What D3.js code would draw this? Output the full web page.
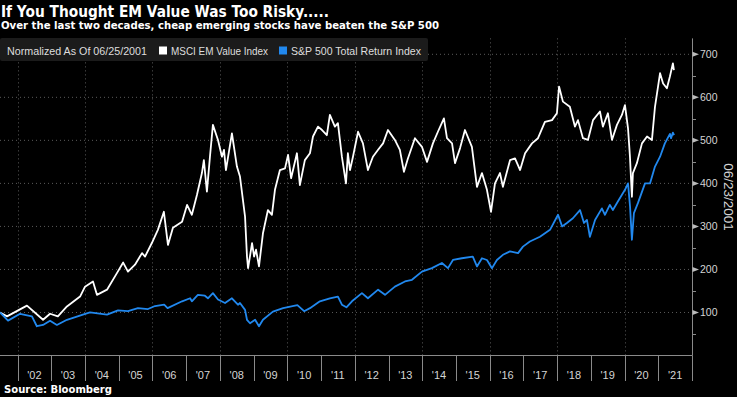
<!DOCTYPE html>
<html><head><meta charset="utf-8">
<script src="https://cdn.jsdelivr.net/npm/d3@7"></script>
<style>html,body{margin:0;padding:0;background:#000;}svg{display:block}</style>
</head><body><svg id="c" width="737" height="397"></svg>
<script>
const title = "If You Thought EM Value Was Too Risky.....";
const subtitle = "Over the last two decades, cheap emerging stocks have beaten the S&P 500";
const legendNote = "Normalized As Of 06/25/2001";
const seriesNames = ["MSCI EM Value Index", "S&P 500 Total Return Index"];
const axisDateLabel = "06/23/2001";
const sourceText = "Source: Bloomberg";
const yTicks = [100, 200, 300, 400, 500, 600, 700];
const yMinorTicks = [50, 150, 250, 350, 450, 550, 650];
const yearStarts = [2002,2003,2004,2005,2006,2007,2008,2009,2010,2011,2012,2013,2014,2015,2016,2017,2018,2019,2020,2021,2022];
const yearLabels = ["'02","'03","'04","'05","'06","'07","'08","'09","'10","'11","'12","'13","'14","'15","'16","'17","'18","'19","'20","'21"];
const gridYears = [2002,2004,2006,2008,2010,2012,2014,2016,2018,2020];

const emValue = [
["2001-06-25",100],["2001-09-09",91],["2002-04-13",116],["2002-10-04",83],["2002-12-19",97],
["2003-03-14",91],["2003-06-20",114],["2003-11-09",137],["2004-01-02",160],["2004-03-28",172],
["2004-05-10",141],["2004-08-27",153],["2004-12-14",192],["2005-02-18",216],["2005-04-11",195],
["2005-06-26",211],["2005-09-10",238],["2005-10-13",230],["2005-12-27",262],["2006-03-01",292],
["2006-05-05",334],["2006-06-18",257],["2006-08-11",297],["2006-11-18",311],["2007-01-11",350],
["2007-03-04",327],["2007-04-28",373],["2007-06-21",424],["2007-07-12",454],["2007-08-14",381],
["2007-09-16",462],["2007-10-18",536],["2007-12-12",501],["2008-01-24",462],["2008-02-15",478],
["2008-03-07",431],["2008-05-11",516],["2008-07-04",439],["2008-08-06",416],["2008-09-30",323],
["2008-10-21",230],["2008-11-02",203],["2008-12-15",261],["2009-01-06",230],["2009-01-27",246],
["2009-02-28",207],["2009-04-12",284],["2009-06-05",338],["2009-07-18",327],["2009-08-20",385],
["2009-10-13",431],["2009-12-07",435],["2010-01-09",466],["2010-02-11",412],["2010-04-15",470],
["2010-05-17",396],["2010-07-10",454],["2010-09-03",470],["2010-10-06",509],["2010-11-29",532],
["2011-01-12",524],["2011-03-05",512],["2011-04-07",559],["2011-05-31",532],["2011-07-03",540],
["2011-08-15",462],["2011-09-28",400],["2011-10-19",470],["2011-11-11",431],["2011-12-13",462],
["2012-02-06",520],["2012-03-30",493],["2012-05-23",431],["2012-07-16",462],["2012-09-10",478],
["2012-11-03",493],["2012-12-26",524],["2013-03-11",501],["2013-05-04",478],["2013-06-17",427],
["2013-07-30",458],["2013-10-14",505],["2013-12-29",485],["2014-02-22",450],["2014-04-27",493],
["2014-06-20",520],["2014-08-24",551],["2014-09-26",505],["2014-11-20",493],["2014-12-22",447],
["2015-02-15",482],["2015-04-09",524],["2015-06-23",485],["2015-08-17",392],["2015-10-10",424],
["2015-12-03",385],["2016-01-16",334],["2016-02-28",400],["2016-04-22",424],["2016-05-24",392],
["2016-08-09",454],["2016-10-02",458],["2016-11-26",431],["2017-01-19",470],["2017-04-04",493],
["2017-06-08",505],["2017-08-22",543],["2017-11-07",547],["2017-12-30",563],["2018-01-22",625],
["2018-03-05",590],["2018-05-19",578],["2018-07-13",532],["2018-08-15",547],["2018-10-08",505],
["2018-12-01",501],["2019-01-25",547],["2019-04-10",567],["2019-05-12",532],["2019-07-05",563],
["2019-08-18",501],["2019-10-11",536],["2019-12-04",559],["2020-01-06",582],["2020-02-08",528],
["2020-02-29",462],["2020-03-21",369],["2020-04-01",424],["2020-05-14",447],["2020-07-08",493],
["2020-09-01",509],["2020-10-24",501],["2020-11-26",578],["2021-01-20",656],["2021-02-22",632],
["2021-04-04",621],["2021-05-06",648],["2021-06-08",679],["2021-06-19",663]
];

const spTotalReturn = [
["2001-06-25",100],["2001-09-20",81],["2002-01-28",97],["2002-06-06",91],["2002-07-29",68],
["2002-10-04",71],["2002-12-19",81],["2003-03-03",71],["2003-06-20",83],["2003-12-10",95],
["2004-02-25",100],["2004-08-27",95],["2004-12-24",105],["2005-04-11",103],["2005-07-28",110],
["2005-11-14",108],["2006-01-29",115],["2006-05-08",118],["2006-06-14",110],["2006-11-18",126],
["2007-02-13",133],["2007-03-04",126],["2007-05-08",141],["2007-07-23",139],["2007-08-25",133],
["2007-10-18",145],["2007-12-12",130],["2008-02-26",122],["2008-05-11",133],["2008-07-15",118],
["2008-08-06",122],["2008-09-30",106],["2008-10-21",83],["2008-11-23",75],["2009-01-17",83],
["2009-02-28",68],["2009-04-12",83],["2009-07-29",102],["2009-11-16",110],["2010-04-20",117],
["2010-07-02",103],["2010-09-03",110],["2010-12-20",126],["2011-04-07",133],["2011-07-03",137],
["2011-08-15",118],["2011-10-03",112],["2011-12-02",126],["2012-03-19",145],["2012-05-23",133],
["2012-09-10",153],["2012-11-24",141],["2013-03-11",160],["2013-06-28",172],["2013-09-12",176],
["2013-12-29",195],["2014-04-16",203],["2014-08-02",215],["2014-10-07",203],["2014-11-30",222],
["2015-03-06",226],["2015-07-03",230],["2015-08-17",207],["2015-10-10",226],["2015-12-03",222],
["2016-01-27",203],["2016-03-20",222],["2016-05-24",234],["2016-08-09",242],["2016-11-04",238],
["2016-12-27",253],["2017-03-12",265],["2017-06-29",276],["2017-10-16",292],["2018-01-11",327],
["2018-02-24",300],["2018-04-17",308],["2018-06-21",319],["2018-09-06",338],["2018-10-19",308],
["2018-11-20",315],["2018-12-22",276],["2019-02-16",315],["2019-05-01",342],["2019-06-03",327],
["2019-07-26",350],["2019-08-28",338],["2019-10-21",358],["2020-01-06",385],["2020-02-08",400],
["2020-03-01",346],["2020-03-21",269],["2020-04-12",331],["2020-05-25",354],["2020-08-10",400],
["2020-10-03",400],["2020-11-26",439],["2021-01-20",462],["2021-03-13",493],["2021-05-07",515],
["2021-05-19",505],["2021-06-08",518],["2021-06-21",512]
];

const parse = d3.timeParse("%Y-%m-%d");
const svg = d3.select("#c");
const W = 737, H = 397;
svg.append("rect").attr("width", W).attr("height", H).attr("fill", "#000");

const x = d3.scaleTime().domain([parse("2001-06-25"), new Date(2022, 0, 1)]).range([0, 692]);
const y = d3.scaleLinear().domain([0, 700]).range([355.5, 54.3]);
const topY = y(737);
const gridColor = "#5a5a5a";
const textColor = "#d4d4d4";

// Horizontal gridlines
svg.append("g").selectAll("line").data(yTicks).join("line")
  .attr("x1", 0).attr("x2", 692).attr("y1", d => y(d)).attr("y2", d => y(d))
  .attr("stroke", gridColor).attr("stroke-width", 1).attr("stroke-dasharray", "1,3");
// Vertical gridlines
svg.append("g").selectAll("line").data(gridYears).join("line")
  .attr("x1", d => Math.round(x(new Date(d,0,1))) + 0.5).attr("x2", d => Math.round(x(new Date(d,0,1))) + 0.5)
  .attr("y1", topY).attr("y2", 355)
  .attr("stroke", gridColor).attr("stroke-width", 1).attr("stroke-dasharray", "1,3");

// Lines
const line = d3.line().x(d => x(parse(d[0]))).y(d => y(d[1]));
svg.append("path").datum(emValue).attr("d", line).attr("fill", "none")
  .attr("stroke", "#ffffff").attr("stroke-width", 1.8).attr("stroke-linejoin", "round");
svg.append("path").datum(spTotalReturn).attr("d", line).attr("fill", "none")
  .attr("stroke", "#2188ee").attr("stroke-width", 1.8).attr("stroke-linejoin", "round");

// Bottom axis
svg.append("line").attr("x1", 0).attr("x2", 692.5).attr("y1", 355.5).attr("y2", 355.5)
  .attr("stroke", "#8a8a8a").attr("stroke-width", 1);
svg.append("g").selectAll("line").data(yearStarts).join("line")
  .attr("x1", d => Math.round(x(new Date(d,0,1))) + 0.5).attr("x2", d => Math.round(x(new Date(d,0,1))) + 0.5)
  .attr("y1", 355.5).attr("y2", 381).attr("stroke", "#8a8a8a").attr("stroke-width", 1);
svg.append("g").selectAll("text").data(yearLabels).join("text")
  .attr("x", (d, i) => x(new Date(yearStarts[i], 6, 2)))
  .attr("y", 378.5).attr("text-anchor", "middle")
  .attr("font-family", "'Liberation Sans Narrow','Liberation Sans',Arial,sans-serif")
  .attr("font-size", 11).attr("fill", textColor).text(d => d);

// Right axis
svg.append("line").attr("x1", 692.5).attr("x2", 692.5).attr("y1", topY).attr("y2", 355.5)
  .attr("stroke", "#8a8a8a").attr("stroke-width", 1);
svg.append("g").selectAll("path").data(yTicks).join("path")
  .attr("d", d => `M692.5,${y(d)-2.5}L699,${y(d)}L692.5,${y(d)+2.5}Z`)
  .attr("fill", "#bbbbbb");
svg.append("g").selectAll("line").data(yMinorTicks).join("line")
  .attr("x1", 692.5).attr("x2", 696).attr("y1", d => Math.round(y(d)) + 0.5).attr("y2", d => Math.round(y(d)) + 0.5)
  .attr("stroke", "#8a8a8a").attr("stroke-width", 1);
svg.append("g").selectAll("text").data(yTicks).join("text")
  .attr("x", 700).attr("y", d => y(d) + 3.6)
  .attr("font-family", "'Liberation Sans',Arial,sans-serif").attr("font-size", 10.5)
  .attr("fill", textColor).text(d => d);
svg.append("text").attr("transform", "translate(724,197) rotate(90)")
  .attr("text-anchor", "middle")
  .attr("font-family", "'Liberation Sans',Arial,sans-serif").attr("font-size", 13.5)
  .attr("fill", textColor).text(axisDateLabel);

// Legend bar
svg.append("rect").attr("x", 0).attr("y", 38).attr("width", 428).attr("height", 23)
  .attr("rx", 2).attr("fill", "#1b1b1b");
const legFont = "'Liberation Sans',Arial,sans-serif";
svg.append("text").attr("x", 7).attr("y", 55).attr("font-family", legFont).attr("font-size", 11)
  .attr("fill", "#dedede").attr("textLength", 140).attr("lengthAdjust", "spacingAndGlyphs").text(legendNote);
svg.append("rect").attr("x", 159).attr("y", 46.5).attr("width", 8).attr("height", 8).attr("fill", "#ffffff");
svg.append("text").attr("x", 171).attr("y", 55).attr("font-family", legFont).attr("font-size", 11)
  .attr("fill", "#dedede").attr("textLength", 97).attr("lengthAdjust", "spacingAndGlyphs").text(seriesNames[0]);
svg.append("rect").attr("x", 279).attr("y", 46.5).attr("width", 8).attr("height", 8).attr("fill", "#2188ee");
svg.append("text").attr("x", 291).attr("y", 55).attr("font-family", legFont).attr("font-size", 11)
  .attr("fill", "#dedede").attr("textLength", 130).attr("lengthAdjust", "spacingAndGlyphs").text(seriesNames[1]);

// Titles
svg.append("text").attr("x", 1).attr("y", 16.5)
  .attr("font-family", "'DejaVu Sans',Verdana,sans-serif").attr("font-weight", "bold").attr("font-size", 15)
  .attr("fill", "#ffffff").attr("textLength", 328).attr("lengthAdjust", "spacingAndGlyphs").text(title);
svg.append("text").attr("x", 1).attr("y", 28.7)
  .attr("font-family", "'DejaVu Sans',Verdana,sans-serif").attr("font-weight", "bold").attr("font-size", 10)
  .attr("fill", "#ffffff").attr("textLength", 438).attr("lengthAdjust", "spacingAndGlyphs").text(subtitle);
svg.append("text").attr("x", 4).attr("y", 393.3)
  .attr("font-family", "'DejaVu Sans',Verdana,sans-serif").attr("font-weight", "bold").attr("font-size", 10)
  .attr("fill", "#ffffff").attr("textLength", 108).attr("lengthAdjust", "spacingAndGlyphs").text(sourceText);
</script></body></html>
